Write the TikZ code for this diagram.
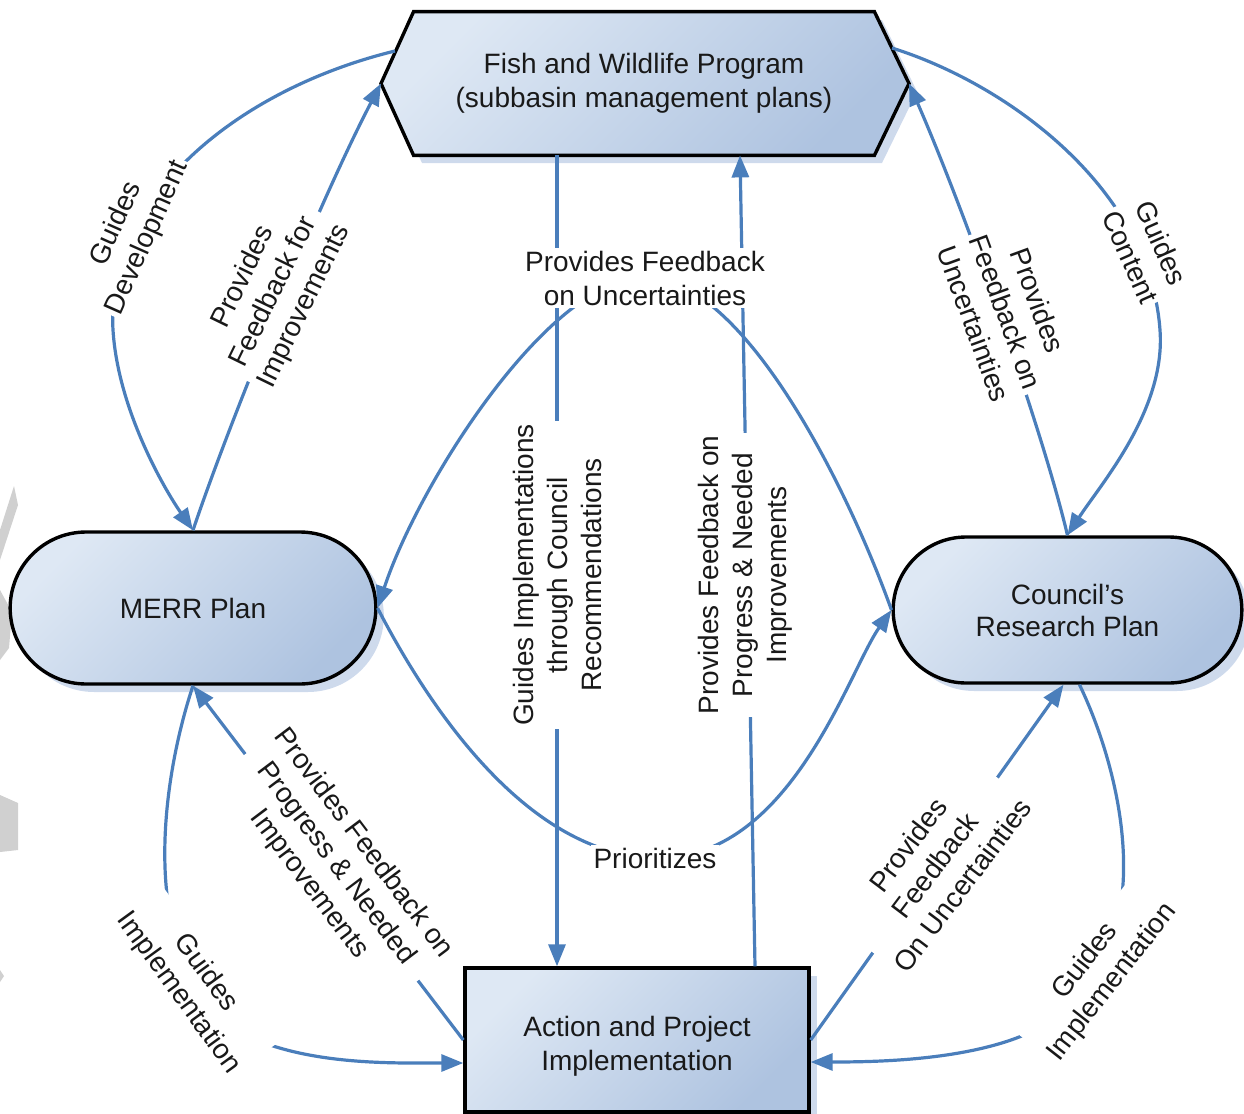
\documentclass[tikz,border=0pt]{standalone}
\usepackage{fontspec}
\setmainfont{Liberation Sans}
\usetikzlibrary{shapes.misc,arrows.meta,shadows,calc}
\pgfdeclarelayer{front}
\pgfsetlayers{main,front}
\definecolor{lineblue}{RGB}{74,126,187}
\definecolor{gl}{RGB}{222,232,244}
\definecolor{gd}{RGB}{174,195,224}
\definecolor{shc}{RGB}{206,218,236}
\definecolor{artg}{RGB}{208,208,208}
\definecolor{txt}{RGB}{25,25,25}
\begin{document}
\begin{tikzpicture}[x=0.5pt,y=0.5pt,
  every node/.style={font=\fontsize{14pt}{17pt}\selectfont, text=txt},
  box/.style={draw=black, line width=1.7pt, top color=gl, bottom color=gd, shading angle=45,
    drop shadow={shadow xshift=4pt, shadow yshift=-4pt, fill=shc, opacity=1, draw=none}},
  conn/.style={draw=lineblue, line width=1.6pt, -{Triangle[length=11pt,width=8.5pt]}},
  lbl/.style={fill=white, inner sep=1.5pt, align=center}]
\useasboundingbox (0,0) rectangle (1244,-1114);

% grey fragments at the left margin
\fill[artg] (0,-560) -- (0,-530) -- (14,-486) -- (18,-505) -- cycle;
\fill[artg] (0,-590) -- (12,-612) -- (9,-648) -- (0,-660) -- cycle;
\fill[artg] (0,-795) -- (18,-803) -- (18,-850) -- (0,-852) -- cycle;
\fill[artg] (0,-970) -- (4,-976) -- (0,-982) -- cycle;

% labels and texts (front layer)
\begin{pgfonlayer}{front}
\node[minimum width=230pt, minimum height=71.5pt, inner sep=0pt, align=center] (hex) at (644,-83.5)
  {Fish and Wildlife Program\\(subbasin management plans)};
\node[align=center] (actTxt) at (637,-1046) {Action and Project\\Implementation};
\node[lbl, rotate=66] (gdLbl) at (132,-231) {Guides\\Development};
\node[lbl, rotate=64] (pfiLbl) at (274,-292) {Provides\\Feedback for\\Improvements};
\node[lbl, rotate=-66] (gcLbl) at (1146,-250) {Guides\\Content};
\node[lbl, rotate=-70] (pfuRLbl) at (1006,-312) {Provides\\Feedback on\\Uncertainties};
\node[lbl] (uncLbl) at (645,-278) {Provides Feedback\\on Uncertainties};
\node[lbl, rotate=90] (giLbl) at (557,-575) {Guides Implementations\\through Council\\Recommendations};
\node[lbl, rotate=90] (pfpLbl) at (745,-575) {Provides Feedback on\\Progress \& Needed\\Improvements};
\node[lbl] (prioLbl) at (655,-858) {Prioritizes};
\node[lbl, rotate=-53] (pfpLLbl) at (336,-864) {Provides Feedback on\\Progress \& Needed\\Improvements};
\node[lbl, rotate=-54] (giLLbl) at (192,-983) {Guides\\Implementation};
\node[lbl, rotate=53] (pfuBLbl) at (935,-865) {Provides\\Feedback\\On Uncertainties};
\node[lbl, rotate=52] (giRLbl) at (1099,-972) {Guides\\Implementation};
\end{pgfonlayer}

% hexagon (Fish and Wildlife Program)
\fill[shc, shift={(8,-8)}] (414,-12) -- (874,-12) -- (909,-83.5) -- (874,-155) -- (414,-155) -- (381,-83.5) -- cycle;
\draw[line width=1.7pt, top color=gl, bottom color=gd, shading angle=45]
  (hex.north west) -- (hex.north east) -- (909,-83.5) -- (hex.south east) -- (hex.south west) -- (381,-83.5) -- cycle;
\coordinate (hexL) at (381,-83.5);
\coordinate (hexR) at (909,-83.5);
\coordinate (hexUL) at (395,-51);
\coordinate (hexUR) at (892,-48);

% other shapes
\node[box, rounded rectangle, minimum width=189.5pt, minimum height=76pt] (merr) at (193,-608) {MERR Plan};
\node[box, rounded rectangle, minimum width=181pt, minimum height=73pt, align=center] (council) at (1067.5,-610) {Council’s\\[-1pt]Research Plan};
\node[box, rectangle, minimum width=172pt, minimum height=72pt] (act) at (637,-1040) {};

% connectors
\draw[conn] (hexUL) .. controls (235,-90) and (105,-200) .. (113,-330) .. controls (118,-410) and (165,-490) .. (merr.north);
\draw[conn] (merr.north) .. controls (230,-420) and (320,-200) .. (hexL);
\draw[conn] (hexUR) .. controls (1010,-85) and (1150,-190) .. (1160,-330) .. controls (1166,-410) and (1100,-485) .. (council.north);
\draw[conn] (council.north) .. controls (1040,-420) and (960,-200) .. (hexR);
\draw[conn] (council.west) .. controls (845,-480) and (740,-275) .. (uncLbl.center) .. controls (552,-275) and (420,-480) .. (merr.east);
\draw[conn] (merr.east) .. controls (420,-690) and (520,-855) .. (prioLbl.center) .. controls (790,-861) and (848,-672) .. (council.west);
\draw[conn] (hex.south -| giLbl.center) -- (act.north -| giLbl.center);
\draw[conn] ($(act.north)+(118,0)$) -- ($(hex.south)+(96,0)$);
\draw[conn] (act.west) -- (merr.south);
\draw[conn] (merr.south) .. controls (155,-800) and (135,-1000) .. (270,-1045) .. controls (330,-1065) and (400,-1063) .. ($(act.west)+(0,-23)$);
\draw[conn] (act.east) -- ($(council.south)+(-4,0)$);
\draw[conn] ($(council.south)+(12,0)$) .. controls (1130,-790) and (1170,-990) .. (1005,-1042) .. controls (945,-1061) and (870,-1062) .. ($(act.east)+(0,-22)$);
\end{tikzpicture}
\end{document}
